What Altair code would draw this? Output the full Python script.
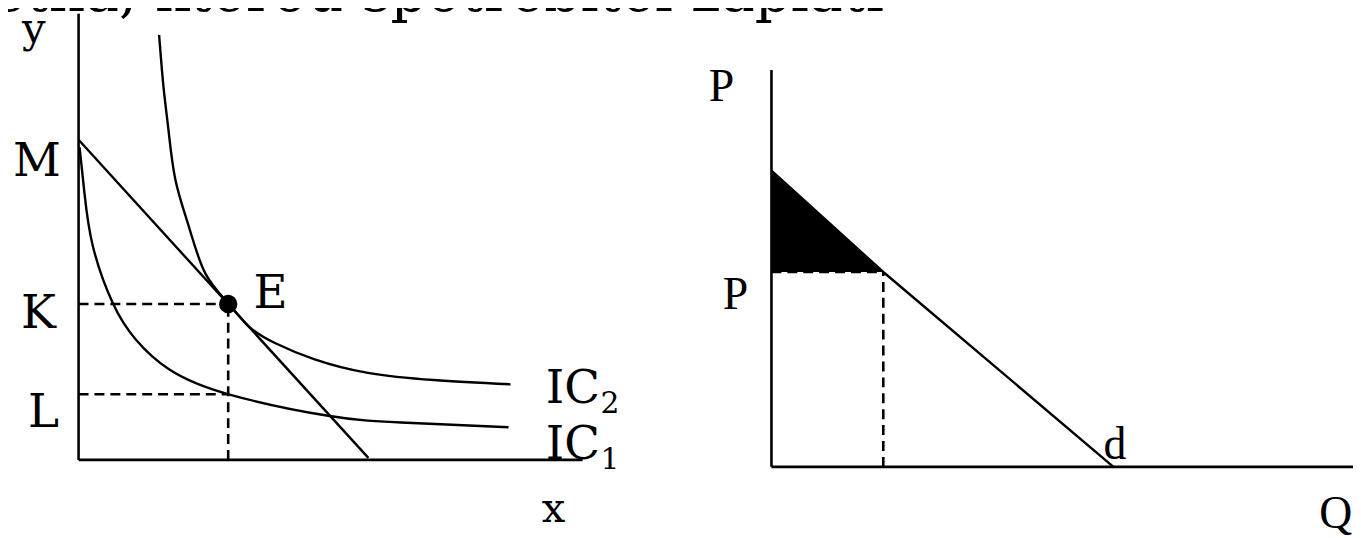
import altair as alt
import pandas as pd

# ---------------- data ----------------
# left panel: indifference curves and budget line (x, y units)
ic2_x = [1.62, 1.71, 1.81, 1.95, 2.22, 2.55, 3.01, 3.42, 3.95, 4.75, 5.82, 7.15, 8.69]
ic2_y = [10.69, 9.36, 8.28, 7.03, 5.86, 4.69, 3.94, 3.36, 2.94, 2.53, 2.19, 2.01, 1.90]
ic1_x = [0.02, 0.12, 0.29, 0.69, 1.15, 1.82, 3.02, 5.02, 6.49, 8.65]
ic1_y = [7.86, 6.69, 5.36, 3.94, 3.03, 2.28, 1.65, 1.11, 0.94, 0.82]
budget_x = [0.0, 5.83]
budget_y = [8.05, 0.05]
e_x, e_y = 3.01, 3.92          # optimum E
k_level = 3.92                 # K
l_level = 1.65                 # L
left_axis_x_max = 10.14
left_axis_y_max = 11.22

# right panel: demand line (Q, P units)
demand_q = [0.0, 2.25, 6.88]
demand_p = [7.45, 4.90, 0.0]
price_p = 4.90
price_q = 2.25
right_axis_x_max = 11.7
right_axis_y_max = 9.98

title_text = "etná, kterou spotřebitel zaplatí"

# ---------------- layout ----------------
W, H = 1353, 530
lx = alt.Scale(domain=[-1.42, 25.64], nice=False, zero=False)
ly = alt.Scale(domain=[-1.925, 11.325], nice=False, zero=False)
rx = alt.Scale(domain=[-15.36, 11.7], nice=False, zero=False)
ry = alt.Scale(domain=[-1.75, 11.5], nice=False, zero=False)

SERIF_L = "DejaVu Serif"
SERIF_R = "Liberation Serif"
DASH = [10, 6]


def curve(xs, ys, sx, sy, width=2.4, interp="natural"):
    df = pd.DataFrame({"x": xs, "y": ys, "i": range(len(xs))})
    return alt.Chart(df).mark_line(color="black", strokeWidth=width, interpolate=interp).encode(
        x=alt.X("x:Q", scale=sx, axis=None),
        y=alt.Y("y:Q", scale=sy, axis=None),
        order="i:Q",
    )


def rules(rows, sx, sy, dashed=False, width=2.4):
    df = pd.DataFrame(rows, columns=["x", "x2", "y", "y2"])
    kw = {"strokeDash": DASH} if dashed else {}
    return alt.Chart(df).mark_rule(color="black", strokeWidth=width, **kw).encode(
        x=alt.X("x:Q", scale=sx, axis=None),
        x2="x2:Q",
        y=alt.Y("y:Q", scale=sy, axis=None),
        y2="y2:Q",
    )


def texts(rows, sx, sy, font, size, align="left"):
    df = pd.DataFrame(rows, columns=["x", "y", "t"])
    return alt.Chart(df).mark_text(
        font=font, fontSize=size, color="black", align=align, baseline="alphabetic"
    ).encode(
        x=alt.X("x:Q", scale=sx, axis=None),
        y=alt.Y("y:Q", scale=sy, axis=None),
        text="t:N",
    )


# ---------------- left panel ----------------
left_axes = rules(
    [[0, 0, 0, left_axis_y_max], [0, left_axis_x_max, 0, 0]], lx, ly, width=2.6
)
left_dash = rules(
    [
        [0, e_x, k_level, k_level],
        [0, e_x, l_level, l_level],
        [e_x, e_x, 0, k_level],
    ],
    lx, ly, dashed=True, width=2.6,
)
e_point = alt.Chart(pd.DataFrame({"x": [e_x], "y": [e_y]})).mark_circle(
    color="black", opacity=1, size=340
).encode(x=alt.X("x:Q", scale=lx, axis=None), y=alt.Y("y:Q", scale=ly, axis=None))

left_labels = texts(
    [
        [-1.32, 7.15, "M"],
        [-1.16, 3.325, "K"],
        [-1.02, 0.825, "L"],
        [3.52, 3.825, "E"],
        [9.4, 1.425, "IC"],
        [9.4, 0.025, "IC"],
    ],
    lx, ly, SERIF_L, 47,
)
left_small = texts([[-1.14, 10.5, "y"], [9.32, -1.55, "x"]], lx, ly, SERIF_L, 42)
subs = texts([[10.5, 1.175, "2"], [10.5, -0.225, "1"]], lx, ly, SERIF_L, 30)
title = texts([[16.2, 11.3, title_text]], lx, ly, SERIF_L, 57, align="right")

left = alt.layer(
    left_axes,
    left_dash,
    curve(ic1_x, ic1_y, lx, ly),
    curve(ic2_x, ic2_y, lx, ly),
    curve(budget_x, budget_y, lx, ly, interp="linear"),
    e_point,
    left_labels,
    left_small,
    subs,
    title,
)

# ---------------- right panel ----------------
tri = alt.Chart(
    pd.DataFrame({"q": demand_q[:2], "p": demand_p[:2], "p2": [price_p, price_p]})
).mark_area(color="black", opacity=1).encode(
    x=alt.X("q:Q", scale=rx, axis=None),
    y=alt.Y("p:Q", scale=ry, axis=None),
    y2="p2:Q",
)
right_axes = rules(
    [[0, 0, 0, right_axis_y_max], [0, right_axis_x_max, 0, 0]], rx, ry, width=2.6
)
right_dash = rules(
    [[0, price_q, price_p, price_p], [price_q, price_q, 0, price_p]],
    rx, ry, dashed=True, width=2.6,
)
right_labels = texts(
    [
        [-1.26, 9.2, "P"],
        [-0.98, 3.975, "P"],
        [6.68, 0.2, "d"],
        [11.02, -1.55, "Q"],
    ],
    rx, ry, SERIF_R, 46,
)

right = alt.layer(
    tri,
    right_axes,
    right_dash,
    curve(demand_q, demand_p, rx, ry, interp="linear"),
    right_labels,
)

chart = (
    alt.layer(left, right)
    .resolve_scale(x="independent", y="independent")
    .properties(width=W, height=H, padding=0, autosize="none", background="white")
    .configure_view(stroke=None)
)

chart.save("out.html", embed_options={"renderer": "svg", "actions": False})
